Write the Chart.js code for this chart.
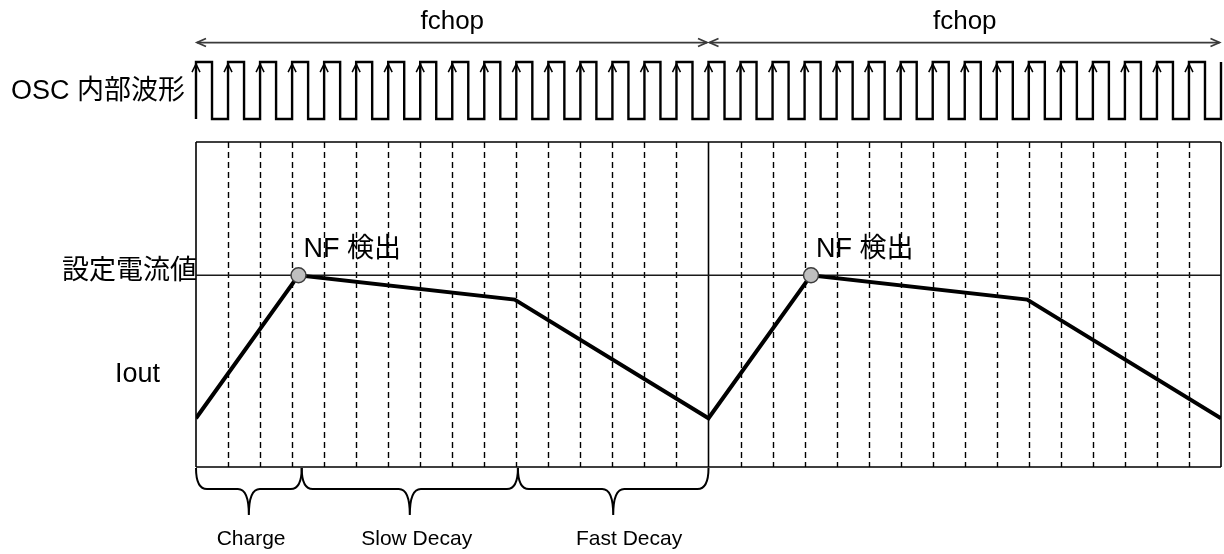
<!DOCTYPE html>
<html>
<head>
<meta charset="utf-8">
<script src="https://cdn.jsdelivr.net/npm/chart.js@4.4.1/dist/chart.umd.min.js"></script>
<style>
  html, body { margin: 0; padding: 0; background: #fff; }
  canvas { display: block; }
</style>
</head>
<body>
<canvas id="chart" width="1224" height="554"></canvas>
<script>
// x unit = one OSC clock, 16 clocks per fchop period
const clockEdges = [0, 1, 2, 3, 4, 5, 6, 7, 8, 9, 10, 11, 12, 13, 14, 15,
  16, 17, 18, 19, 20, 21, 22, 23, 24, 25, 26, 27, 28, 29, 30, 31, 32]
const solidEdges = [0, 16, 32]
const oscDuty = 0.5
const oscHigh = 124.6
const oscLow = 107.1

const ioutTime = [0, 3.2, 9.95, 16, 19.2, 25.95, 32]
const ioutValue = [15, 59, 51.5, 15, 59, 51.5, 15]
const setLevel = 59
const nfTime = [3.2, 19.2]
const nfValue = [59, 59]

const fchopStart = [0, 16]
const fchopEnd = [16, 32]
const fchopLevel = 130.6

const phaseNames = ["Charge", "Slow Decay", "Fast Decay"]
const phaseEdges = [0, 3.3, 10.05, 16]
const phaseLabelAt = [1.72, 6.89, 13.52]

const FONT = '"Liberation Sans", "Noto Sans CJK JP", sans-serif'

// square wave points built from the clock edges
const oscPoints = []
clockEdges.forEach((t, i) => {
  oscPoints.push({x: t, y: oscLow}, {x: t, y: oscHigh})
  if (i < clockEdges.length - 1) {
    oscPoints.push({x: t + oscDuty, y: oscHigh}, {x: t + oscDuty, y: oscLow})
  }
})

const drawChevron = (ctx, x, y, dx, dy, len, half) => {
  // open arrow head pointing along (dx,dy)
  const px = -dy, py = dx
  ctx.beginPath()
  ctx.moveTo(x - dx * len + px * half, y - dy * len + py * half)
  ctx.lineTo(x, y)
  ctx.lineTo(x - dx * len - px * half, y - dy * len - py * half)
  ctx.stroke()
}

const timingPlugin = {
  id: "timing",
  beforeDatasetsDraw(chart) {
    const {ctx, chartArea: a, scales: {x}} = chart
    ctx.save()
    ctx.strokeStyle = "#000"
    ctx.lineWidth = 1.4
    ctx.setLineDash([6, 4])
    clockEdges.filter(t => !solidEdges.includes(t)).forEach(t => {
      const px = Math.round(x.getPixelForValue(t)) + 0.5
      ctx.beginPath()
      ctx.moveTo(px, a.top)
      ctx.lineTo(px, a.bottom)
      ctx.stroke()
    })
    ctx.setLineDash([])
    ctx.lineWidth = 1.6
    solidEdges.forEach(t => {
      const px = x.getPixelForValue(t)
      ctx.beginPath()
      ctx.moveTo(px, a.top)
      ctx.lineTo(px, a.bottom)
      ctx.stroke()
    })
    ctx.beginPath()
    ctx.moveTo(a.left, a.top)
    ctx.lineTo(a.right, a.top)
    ctx.moveTo(a.left, a.bottom)
    ctx.lineTo(a.right, a.bottom)
    ctx.stroke()
    ctx.restore()
  },
  afterDatasetsDraw(chart) {
    const {ctx, chartArea: a, scales: {x, y}} = chart
    ctx.save()

    // arrows on OSC rising edges
    ctx.strokeStyle = "#000"
    ctx.lineWidth = 1.5
    clockEdges.slice(0, -1).forEach(t => {
      drawChevron(ctx, x.getPixelForValue(t), y.getPixelForValue(oscHigh) + 2, 0, -1, 8, 4)
    })

    // fchop span arrows
    ctx.strokeStyle = "#3a3a3a"
    ctx.lineWidth = 1.8
    const fy = y.getPixelForValue(fchopLevel)
    fchopStart.forEach((s, i) => {
      const x0 = x.getPixelForValue(s) + 1
      const x1 = x.getPixelForValue(fchopEnd[i]) - 1.5
      ctx.beginPath()
      ctx.moveTo(x0, fy)
      ctx.lineTo(x1, fy)
      ctx.stroke()
      drawChevron(ctx, x0, fy, -1, 0, 9, 4)
      drawChevron(ctx, x1, fy, 1, 0, 9, 4)
    })

    // braces under the first period
    ctx.strokeStyle = "#000"
    ctx.lineWidth = 2
    const b0 = a.bottom + 1, b1 = a.bottom + 22, b2 = a.bottom + 48, r = 11
    phaseNames.forEach((name, i) => {
      const xa = x.getPixelForValue(phaseEdges[i])
      const xb = x.getPixelForValue(phaseEdges[i + 1])
      const xm = (xa + xb) / 2
      ctx.beginPath()
      ctx.moveTo(xa, b0)
      ctx.quadraticCurveTo(xa, b1, xa + r, b1)
      ctx.lineTo(xm - r, b1)
      ctx.quadraticCurveTo(xm, b1, xm, b2)
      ctx.quadraticCurveTo(xm, b1, xm + r, b1)
      ctx.lineTo(xb - r, b1)
      ctx.quadraticCurveTo(xb, b1, xb, b0)
      ctx.stroke()
      ctx.fillStyle = "#000"
      ctx.font = "21px " + FONT
      ctx.textAlign = "center"
      ctx.textBaseline = "alphabetic"
      ctx.fillText(name, x.getPixelForValue(phaseLabelAt[i]), 545)
    })

    // text labels
    ctx.fillStyle = "#000"
    ctx.font = "26px " + FONT
    ctx.textAlign = "center"
    fchopStart.forEach((s, i) => {
      ctx.fillText("fchop", x.getPixelForValue((s + fchopEnd[i]) / 2), 29)
    })

    ctx.font = "27px " + FONT
    ctx.textAlign = "right"
    ctx.textBaseline = "middle"
    ctx.fillText("OSC 内部波形", a.left - 11, 92)
    ctx.fillText("設定電流値", a.left + 1, y.getPixelForValue(setLevel) - 4)
    ctx.textAlign = "left"
    ctx.textBaseline = "alphabetic"
    ctx.fillText("Iout", 115, 382)
    nfTime.forEach((t, i) => {
      ctx.fillText("NF 検出", x.getPixelForValue(t) + 5, y.getPixelForValue(nfValue[i]) - 18)
    })
    ctx.restore()
  }
}

new Chart(document.getElementById("chart"), {
  type: "line",
  data: {
    datasets: [
      {
        label: "NF",
        type: "scatter",
        data: nfTime.map((t, i) => ({x: t, y: nfValue[i]})),
        pointRadius: 7.5,
        pointBackgroundColor: "#bfbfbf",
        pointBorderColor: "#3c3c3c",
        pointBorderWidth: 1.5,
        order: 0
      },
      {
        label: "Iout",
        data: ioutTime.map((t, i) => ({x: t, y: ioutValue[i]})),
        borderColor: "#000",
        borderWidth: 4,
        pointRadius: 0,
        tension: 0,
        order: 1
      },
      {
        label: "setting",
        data: [{x: clockEdges[0], y: setLevel}, {x: clockEdges[clockEdges.length - 1], y: setLevel}],
        borderColor: "#1a1a1a",
        borderWidth: 1.3,
        pointRadius: 0,
        order: 2
      },
      {
        label: "OSC",
        data: oscPoints,
        borderColor: "#000",
        borderWidth: 2.4,
        borderJoinStyle: "miter",
        pointRadius: 0,
        tension: 0,
        clip: false,
        order: 3
      }
    ]
  },
  options: {
    responsive: false,
    devicePixelRatio: 1,
    animation: false,
    layout: {autoPadding: false, padding: {left: 196, right: 3, top: 142, bottom: 87}},
    plugins: {legend: {display: false}, tooltip: {enabled: false}},
    scales: {
      x: {type: "linear", min: 0, max: 32, display: false},
      y: {type: "linear", min: 0, max: 100, display: false}
    }
  },
  plugins: [timingPlugin]
})
</script>
</body>
</html>
